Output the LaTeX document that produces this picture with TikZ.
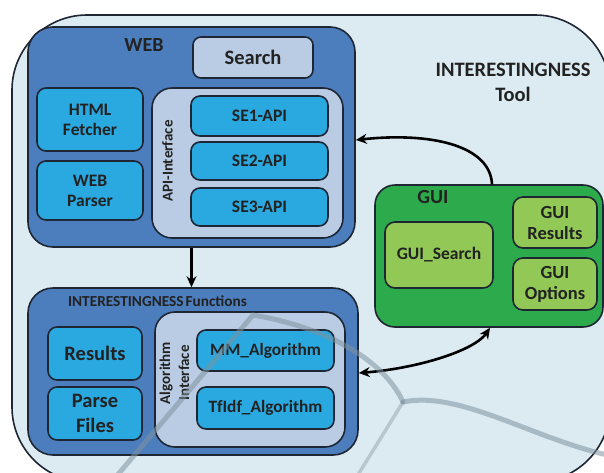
\documentclass[tikz,border=0pt]{standalone}
\usepackage{fontspec}
\setmainfont{Carlito}
\usetikzlibrary{arrows.meta}
\definecolor{bgc}{HTML}{DCEBF2}
\definecolor{webc}{HTML}{4C7EBE}
\definecolor{cyanc}{HTML}{2AA8E0}
\definecolor{lightc}{HTML}{B9CCE4}
\definecolor{guic}{HTML}{2DAA4C}
\definecolor{lgreen}{HTML}{92C855}
\definecolor{edgec}{HTML}{1E2633}
\definecolor{txtc}{HTML}{222222}
\definecolor{wmc}{HTML}{7F939F}
\tikzset{
  basebox/.style={draw=edgec, line width=1.6pt, inner sep=0pt, align=center, text=txtc},
  bigbox/.style={basebox, fill=webc, rounded corners=25pt},
  ifbox/.style={basebox, fill=lightc, rounded corners=20pt},
  cbox/.style={basebox, fill=cyanc, rounded corners=9pt},
  greenbox/.style={basebox, fill=guic, rounded corners=20pt},
  lgbox/.style={basebox, fill=lgreen, rounded corners=10pt},
  lbl/.style={inner sep=0pt, align=center, text=txtc},
  arr/.style={draw=black, line width=2.6pt, -{Stealth[length=11pt,width=10pt]}},
  darr/.style={draw=black, line width=2.6pt, {Stealth[length=11pt,width=10pt]}-{Stealth[length=11pt,width=10pt]}},
  wm/.style={draw=wmc, opacity=0.55, line width=5pt, line cap=round},
}
\newcommand{\fs}[2]{\fontsize{#1}{#2}\selectfont\bfseries}
\begin{document}
\begin{tikzpicture}[x=1pt,y=-1pt]
\useasboundingbox (0,0) rectangle (604,472);
\clip (0,0) rectangle (604,472);
\fill[white] (0,0) rectangle (604,472);
% outer tool area
\node[basebox, fill=bgc, rounded corners=75pt, minimum width=598pt, minimum height=467pt] (tool) at (311,248.5) {};
\node[lbl, font=\fs{20.5}{25}] (toollabel) at (513,82) {INTERESTINGNESS\\Tool};

% WEB
\node[bigbox, minimum width=327pt, minimum height=220pt] (web) at (191.5,137) {};
\node[lbl, font=\fs{20}{22}] (weblabel) at (144,45) {WEB};
\node[basebox, fill=lightc, rounded corners=8pt, minimum width=120pt, minimum height=41pt, font=\fs{20.5}{24}] (search) at (253,57.5) {Search};
\node[cbox, minimum width=106pt, minimum height=63pt, font=\fs{17.5}{20}] (html) at (90,119.5) {HTML\\Fetcher};
\node[cbox, minimum width=106pt, minimum height=59pt, font=\fs{17.5}{20}] (parser) at (90,190.5) {WEB\\Parser};
\node[ifbox, minimum width=191pt, minimum height=150pt] (api) at (247.5,163) {};
\node[lbl, rotate=90, font=\fs{15}{18}] (apilabel) at (167.5,161) {API-Interface};
\node[cbox, minimum width=137pt, minimum height=40pt, font=\fs{17.5}{20}] (se1) at (259.5,116) {SE1-API};
\node[cbox, minimum width=137pt, minimum height=38pt, font=\fs{17.5}{20}] (se2) at (259.5,161) {SE2-API};
\node[cbox, minimum width=137pt, minimum height=38pt, font=\fs{17.5}{20}] (se3) at (259.5,207) {SE3-API};

% Functions
\node[bigbox, minimum width=330pt, minimum height=167pt] (func) at (193,371.5) {};
\node[lbl, font=\fs{15.3}{16}] (funclabel) at (157.5,301.5) {INTERESTINGNESS\hspace{-1.5pt} Functions};
\node[cbox, minimum width=94pt, minimum height=53pt, font=\fs{20.5}{25}] (results) at (95,353.5) {Results};
\node[cbox, minimum width=94pt, minimum height=53pt, font=\fs{20.5}{25}] (parse) at (95,413.5) {Parse\\Files};
\node[ifbox, minimum width=190pt, minimum height=135pt] (alg) at (250,379.5) {};
\node[lbl, rotate=90, font=\fs{15}{19}] (alglabel) at (174.5,373) {Algorithm\\Interface};
\node[cbox, minimum width=137pt, minimum height=41pt, font=\fs{17.3}{19}] (mm) at (265.5,350.5) {MM\_Algorithm};
\node[cbox, minimum width=137pt, minimum height=42pt, font=\fs{17.3}{19}] (tfidf) at (265.5,408) {TfIdf\_Algorithm};

% GUI
\node[greenbox, minimum width=228pt, minimum height=142pt] (gui) at (489,256) {};
\node[lbl, font=\fs{20}{22}] (guilabel) at (433,197.5) {GUI};
\node[lgbox, minimum width=108pt, minimum height=66pt, font=\fs{17.5}{20}] (guisearch) at (439,255) {GUI\_Search};
\node[lgbox, minimum width=84pt, minimum height=51pt, font=\fs{18.5}{21}] (guiresults) at (555,222.5) {GUI\\Results};
\node[lgbox, minimum width=84pt, minimum height=52pt, font=\fs{18.5}{21}] (guioptions) at (555,284) {GUI\\Options};

% connectors
\draw[arr] (web.south) -- (web.south |- func.north);
\draw[arr] ([xshift=3pt]gui.north) .. controls (490,145) and (430,132) .. ([yshift=-3pt]web.east);
\draw[darr] ([xshift=1pt]gui.south) .. controls (475,350) and (420,368) .. ([yshift=-1.5pt]func.east);

% watermark strokes
\draw[wm] (115,478) -- (253,315) .. controls (330,328) and (385,362) .. (403,402);
\draw[wm, line width=3.5pt, opacity=0.4] (403,402) -- (356,478);
\draw[wm] (403,402) .. controls (460,390) and (535,440) .. (612,456);
\end{tikzpicture}
\end{document}
